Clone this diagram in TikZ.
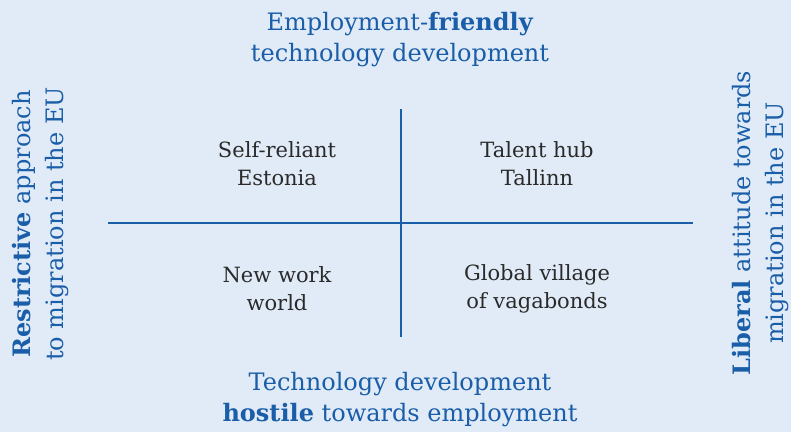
\documentclass[tikz,border=0pt]{standalone}
\usepackage{fontspec}
\setmainfont{DejaVu Serif}
\definecolor{bgblue}{HTML}{E0EBF7}
\definecolor{axisblue}{HTML}{1A5DA8}
\definecolor{quadtext}{HTML}{2A2A2A}
\tikzset{
  axislabel/.style={text=axisblue, font=\fontsize{24}{31}\selectfont, align=center},
  sidelabel/.style={axislabel, font=\fontsize{24}{33}\selectfont, rotate=90},
  quadlabel/.style={text=quadtext, font=\fontsize{21}{28}\selectfont, align=center}
}
\begin{document}
\begin{tikzpicture}[x=1pt, y=-1pt]
% Set the background
\fill[bgblue] (0, 0) rectangle (791, 432);
\useasboundingbox (0, 0) rectangle (791, 432);

% Draw the two axes
\coordinate (left) at (108, 223);
\coordinate (right) at (693, 223);
\coordinate (top) at (401, 109);
\coordinate (bottom) at (401, 337);
\draw[axisblue, line width=1.2pt] (left) -- (right);
\draw[axisblue, line width=1.2pt] (top) -- (bottom);

% Insert the axis labels
\node[axislabel] (upper) at (400, 40) {Employment-\textbf{friendly}\\technology development};
\node[axislabel] (lower) at (400, 400) {Technology development\\\textbf{hostile} towards employment};
\node[sidelabel] (restrictive) at (41, 224) {\textbf{Restrictive} approach\\to migration in the EU};
\node[sidelabel] (liberal) at (761, 223) {\textbf{Liberal} attitude towards\\migration in the EU};

% Insert the scenario names
\node[quadlabel] (selfreliant) at (277, 164) {Self-reliant\\Estonia};
\node[quadlabel] (talenthub) at (537, 164) {Talent hub\\Tallinn};
\node[quadlabel] (newwork) at (277, 289) {New work\\world};
\node[quadlabel] (village) at (537, 289) {Global village\\of vagabonds};
\end{tikzpicture}
\end{document}
